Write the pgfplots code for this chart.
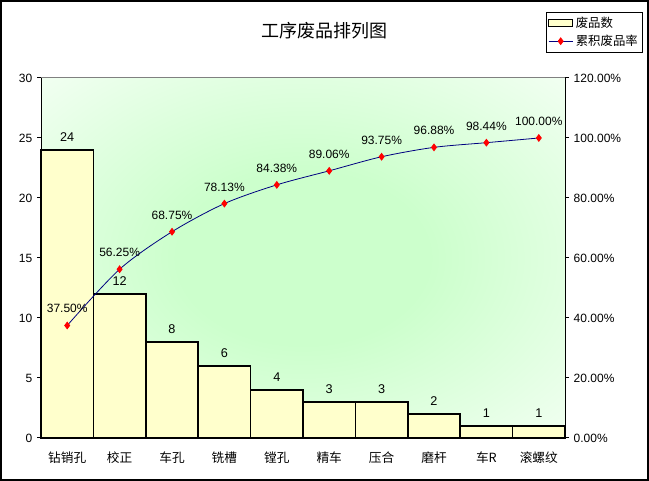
\documentclass[border=0pt]{standalone}
\usepackage{fontspec}
\setmainfont{Liberation Sans}
\newfontfamily\cjk{Noto Sans CJK SC}
\usepackage{pgfplots}
\pgfplotsset{compat=1.18}
\definecolor{barfill}{HTML}{FFFFCC}
\definecolor{navyline}{HTML}{000080}
\definecolor{bggreen}{HTML}{CCFFCC}
\definecolor{topgray}{HTML}{808080}
\pgfdeclareradialshading{bgshade}{\pgfpoint{0bp}{0bp}}{color(0bp)=(bggreen); color(12bp)=(bggreen); color(44bp)=(white); color(50bp)=(white)}
\begin{document}
\begin{tikzpicture}
\useasboundingbox (0,0) rectangle (486.75pt,360.75pt);
\draw[line width=1.5pt] (0.75pt,0.75pt) rectangle (486pt,360pt);
\node[font=\cjk\fontsize{13.5}{15}\selectfont] at (243.4pt,337.5pt) {工序废品排列图};
\begin{axis}[
  at={(30.75pt,32.25pt)}, anchor=south west,
  width=393pt, height=270pt, scale only axis,
  xmin=-0.5, xmax=9.5, ymin=0, ymax=30,
  axis x line*=bottom, axis y line*=left,
  axis line style={-, black, line width=0.75pt},
  axis background/.style={shading=bgshade},
  ytick={0,5,10,15,20,25,30},
  tick align=outside, major tick length=3pt,
  tick style={black, line width=0.75pt},
  xtick={0,1,2,3,4,5,6,7,8,9},
  xticklabels={钻销孔,校正,车孔,铣槽,镗孔,精车,压合,磨杆,车R,滚螺纹},
  x tick style={draw=none},
  xticklabel style={font=\cjk\fontsize{9.5}{11}\selectfont, yshift=-4pt},
  yticklabel style={font=\fontsize{9}{10}\selectfont},
  /pgf/number format/assume math mode=true,
  clip=false,
]
\addplot[ybar, bar width=1, fill=barfill, draw=black, line width=1.1pt,
  nodes near coords,
  every node near coord/.append style={font=\fontsize{9.5}{11}\selectfont, anchor=south, inner sep=0pt, yshift=6pt}]
  coordinates {(0,24) (1,12) (2,8) (3,6) (4,4) (5,3) (6,3) (7,2) (8,1) (9,1)};
\draw[topgray, line width=0.75pt] (rel axis cs:0,1) -- (rel axis cs:1,1);
\end{axis}
\begin{axis}[
  at={(30.75pt,32.25pt)}, anchor=south west,
  width=393pt, height=270pt, scale only axis,
  xmin=-0.5, xmax=9.5, ymin=0, ymax=1.2,
  axis y line*=right, axis x line=none,
  axis line style={-, black, line width=0.75pt},
  ytick={0,0.2,0.4,0.6,0.8,1.0,1.2},
  yticklabels={0.00\%,20.00\%,40.00\%,60.00\%,80.00\%,100.00\%,120.00\%},
  tick align=outside, major tick length=3pt,
  tick style={black, line width=0.75pt},
  yticklabel style={font=\fontsize{9}{10}\selectfont},
  clip=false,
  legend style={at={(1,1)}, anchor=north east, xshift=58.5pt, yshift=49.5pt,
    draw=black, line width=0.75pt, font=\cjk\fontsize{9.3}{11}\selectfont,
    inner sep=1.5pt, row sep=0pt, legend cell align=left},
]
\addlegendimage{legend image code/.code={\draw[fill=barfill, draw=black, line width=0.75pt] (0pt,-2.6pt) rectangle (18pt,2.6pt);}}
\addlegendentry{废品数}
\addlegendimage{navyline, line width=0.6pt, mark=diamond*, mark size=2.5pt, mark options={fill=red, draw=red},
  legend image code/.code={\draw[mark repeat=2,mark phase=2] plot coordinates {(0pt,0pt) (9pt,0pt) (18pt,0pt)};}}
\addlegendentry{累积废品率}
\addplot[navyline, line width=0.6pt, smooth, mark=diamond*, mark size=2.5pt,
  mark options={fill=red, draw=red},
  nodes near coords, point meta=explicit symbolic,
  every node near coord/.append style={black, font=\fontsize{9}{10}\selectfont, anchor=south, inner sep=0pt, yshift=9pt}]
  coordinates {(0,0.375) [37.50\%] (1,0.5625) [56.25\%] (2,0.6875) [68.75\%] (3,0.7813) [78.13\%] (4,0.8438) [84.38\%] (5,0.8906) [89.06\%] (6,0.9375) [93.75\%] (7,0.9688) [96.88\%] (8,0.9844) [98.44\%] (9,1.0) [100.00\%]};
\end{axis}
\end{tikzpicture}
\end{document}
